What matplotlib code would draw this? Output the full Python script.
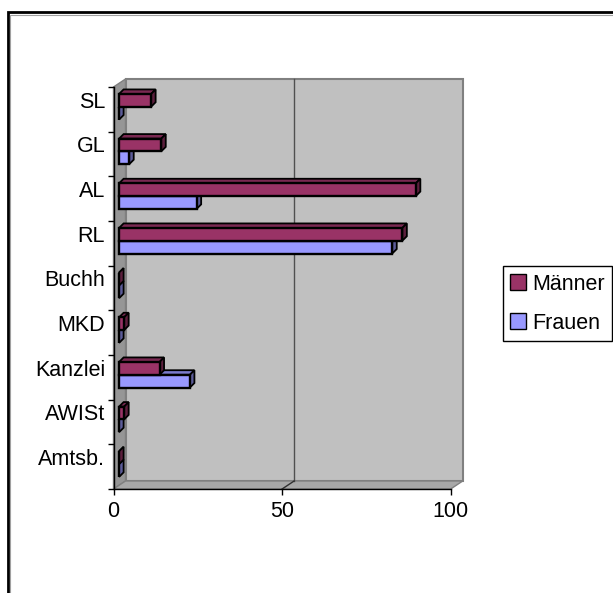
import matplotlib
matplotlib.use('Agg')
import matplotlib.pyplot as plt
from matplotlib.patches import Polygon, Rectangle, Patch

plt.rcParams['font.family'] = ['Liberation Sans', 'DejaVu Sans']

# categories from top to bottom
kategorien = ['SL', 'GL', 'AL', 'RL', 'Buchh', 'MKD', 'Kanzlei', 'AWISt', 'Amtsb.']
maenner = [9.5, 12.5, 88, 84, 0, 1.5, 12, 1.5, 0]
frauen = [0, 3, 23, 81, 0, 0, 21, 0, 0]
x_ticks = [0, 50, 100]

farbe_m = '#993366'
farbe_f = '#9999FF'
fs = 15.5

W, H = 613, 593
fig = plt.figure(figsize=(W / 100, H / 100), dpi=100)
fig.patch.set_facecolor('white')

# front plane of the 3d box in pixels
x0p, x1p = 113.5, 450.7
ytop, ybot = 87, 489
ax = fig.add_axes([x0p / W, (H - ybot) / H, (x1p - x0p) / W, (ybot - ytop) / H])
ax.set_xlim(0, 100)
ax.set_ylim(0, 9)
ax.set_facecolor('none')

sx = (x1p - x0p) / 100.0      # px per value unit
sy = (ybot - ytop) / 9.0      # px per category

# wall depth
wdx, wdy = 12 / sx, 8 / sy
back = Rectangle((wdx, wdy), 100, 9, facecolor='#C0C0C0', edgecolor='#808080',
                 lw=1.5, clip_on=False, zorder=0)
ax.add_patch(back)
side = Polygon([(0, 0), (wdx, wdy), (wdx, 9 + wdy), (0, 9)], closed=True,
               facecolor='#969696', edgecolor='#808080', lw=1, clip_on=False, zorder=0.5)
ax.add_patch(side)
floor = Polygon([(0, 0), (100, 0), (100 + wdx, wdy), (wdx, wdy)], closed=True,
                facecolor='#A8A8A8', edgecolor='#808080', lw=1, clip_on=False, zorder=0.5)
ax.add_patch(floor)
ax.plot([50 + wdx, 50 + wdx], [wdy, 9 + wdy], color='#505050', lw=1, zorder=0.6, clip_on=False)
ax.plot([50, 50 + wdx], [0, wdy], color='#303030', lw=1, zorder=0.6, clip_on=False)


def darker(c, f):
    r, g, b = matplotlib.colors.to_rgb(c)
    return (r * f, g * f, b * f)


# bars
bx = 5.6 / sx
by = 2.6 / sy
h = 12.8 / sy
ddx, ddy = 4.5 / sx, 4.5 / sy
n = len(kategorien)
zb = 2
for i in range(n):
    yc = (n - 1 - i) + 0.5 + by
    for val, col, yy in [(frauen[i], farbe_f, yc - h / 2), (maenner[i], farbe_m, yc + h / 2)]:
        yb, yt = yy - h / 2, yy + h / 2
        x1 = bx + val
        top = Polygon([(bx, yt), (x1, yt), (x1 + ddx, yt + ddy), (bx + ddx, yt + ddy)],
                      closed=True, facecolor=darker(col, 0.8), edgecolor='black',
                      lw=1.3, clip_on=False, zorder=zb)
        sidef = Polygon([(x1, yb), (x1 + ddx, yb + ddy), (x1 + ddx, yt + ddy), (x1, yt)],
                        closed=True, facecolor=darker(col, 0.6), edgecolor='black',
                        lw=1.3, clip_on=False, zorder=zb)
        ax.add_patch(top)
        ax.add_patch(sidef)
        ax.barh(yy, val, height=h, left=bx, color=col, edgecolor='black',
                lw=1.7, zorder=zb + 0.5, clip_on=False)
        zb += 1

# axes
for s in ['top', 'right']:
    ax.spines[s].set_visible(False)
for s in ['left', 'bottom']:
    ax.spines[s].set_color('black')
    ax.spines[s].set_linewidth(1)
    ax.spines[s].set_zorder(50)

ax.set_xticks(x_ticks)
ax.set_xticklabels([str(t) for t in x_ticks])
ax.tick_params(axis='x', direction='out', length=4.5, width=1, pad=4, labelsize=fs)

ax.set_yticks([(n - 1 - i) + 0.5 + 9.5 / sy for i in range(n)])
ax.set_yticklabels(kategorien)
ax.set_yticks(range(n + 1), minor=True)
ax.tick_params(axis='y', which='major', length=0, pad=6, labelsize=fs)
ax.tick_params(axis='y', which='minor', direction='out', length=4.5, width=1)

handles = [Patch(facecolor=farbe_m, edgecolor='black', label='Männer'),
           Patch(facecolor=farbe_f, edgecolor='black', label='Frauen')]
leg = fig.legend(handles=handles, loc='upper left',
                 bbox_to_anchor=(502.7 / W, (H - 266) / H), fontsize=fs,
                 handlelength=0.75, handleheight=0.75, handletextpad=0.25,
                 labelspacing=0.85, borderpad=0.35, borderaxespad=0,
                 fancybox=False, framealpha=1)
leg.get_frame().set_edgecolor('black')
leg.get_frame().set_linewidth(1)

# outer frame of the chart
fig.add_artist(Rectangle((7.5 / W, -0.1), 1.2, (H - 12.5) / H + 0.1, transform=fig.transFigure,
                         fill=False, edgecolor='black', lw=2))
fig.add_artist(Rectangle((9.5 / W, -0.1), 1.2, (H - 14.5) / H + 0.1, transform=fig.transFigure,
                         fill=False, edgecolor='#a0a0a0', lw=0.8))

fig.savefig('out.png', dpi=100)
